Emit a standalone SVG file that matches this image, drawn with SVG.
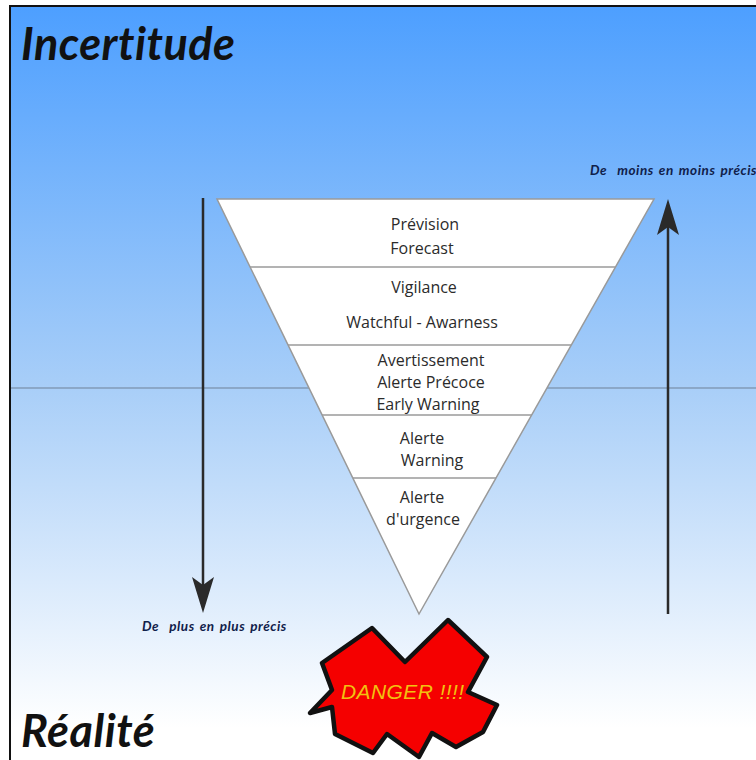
<svg xmlns="http://www.w3.org/2000/svg" width="756" height="760" viewBox="0 0 756 760">
<style>
.t{font-family:"Open Sans","Liberation Sans",sans-serif;font-size:16px;fill:#2b2b2b;text-anchor:middle}
.h{font-family:"Lato","Liberation Sans",sans-serif;font-style:italic;font-weight:bold;font-size:45px;letter-spacing:0.5px;fill:#111}
.s{font-family:"Lato","Liberation Sans",sans-serif;font-style:italic;font-weight:bold;font-size:13.5px;letter-spacing:0.55px;word-spacing:1.5px;fill:#10204a;white-space:pre}
.d{fill:none;stroke:#9a9a9a;stroke-width:1.5}
</style>
<defs>
<linearGradient id="bg" x1="0" y1="0" x2="0" y2="1">
<stop offset="0" stop-color="#4d9fff"/><stop offset="0.5" stop-color="#a8cef8"/><stop offset="0.95" stop-color="#ffffff"/>
</linearGradient>
<marker id="ah" viewBox="0 0 40 22" refX="12" refY="11" markerWidth="40" markerHeight="22" markerUnits="userSpaceOnUse" orient="auto">
<path d="M40 11L4 0L12 11L4 22Z" fill="#2a2a2a"/>
</marker>
</defs>
<rect width="756" height="760" fill="#fff"/>
<rect x="10" y="6" width="760" height="760" fill="url(#bg)" stroke="#111" stroke-width="2"/>
<line x1="11" y1="388" x2="756" y2="388" stroke="#6e8197" stroke-width="1"/>
<g id="titles">
<text class="h" x="21" y="60">Incertitude</text>
<text class="h" x="21" y="747">Réalité</text>
</g>
<g id="funnel">
<polygon points="217,199 654,199 419,614" fill="#fff" stroke="#9a9a9a" stroke-width="1.5"/>
<line class="d" x1="250" y1="267" x2="615" y2="267"/>
<line class="d" x1="288" y1="345" x2="571" y2="345"/>
<line class="d" x1="322" y1="415" x2="532" y2="415"/>
<line class="d" x1="353" y1="478" x2="496" y2="478"/>
</g>
<g id="level-prevision"><text class="t" x="425" y="230">Prévision</text><text class="t" x="422" y="254">Forecast</text></g>
<g id="level-vigilance"><text class="t" x="424" y="293">Vigilance</text><text class="t" x="422" y="328">Watchful - Awarness</text></g>
<g id="level-avertissement"><text class="t" x="431" y="366">Avertissement</text><text class="t" x="431" y="388">Alerte Précoce</text><text class="t" x="428" y="410">Early Warning</text></g>
<g id="level-alerte"><text class="t" x="422" y="444">Alerte</text><text class="t" x="432" y="466">Warning</text></g>
<g id="level-urgence"><text class="t" x="422" y="503">Alerte</text><text class="t" x="423" y="525">d'urgence</text></g>
<g id="connectors">
<line x1="203" y1="198" x2="203" y2="585" stroke="#2a2a2a" stroke-width="2.5" marker-end="url(#ah)"/>
<line x1="668" y1="614" x2="668" y2="227" stroke="#2a2a2a" stroke-width="2.5" marker-end="url(#ah)"/>
</g>
<g id="label-moins"><text class="s" x="590" y="175">De  moins en moins précis</text></g>
<g id="label-plus"><text class="s" x="142" y="631">De  plus en plus précis</text></g>
<g id="danger">
<polygon points="310,713 332,690 322,663 372,628 405,662 448,620 487,657 468,692 497,705 483,732 456,747 432,733 419,757 387,734 373,753 335,734 332,707" fill="#f50000" stroke="#111" stroke-width="4.5" stroke-linejoin="round"/>
<text x="341" y="699" font-family="Liberation Sans, sans-serif" font-style="italic" font-size="21" letter-spacing="0.4" fill="#f2c010">DANGER !!!!</text>
</g>
</svg>
